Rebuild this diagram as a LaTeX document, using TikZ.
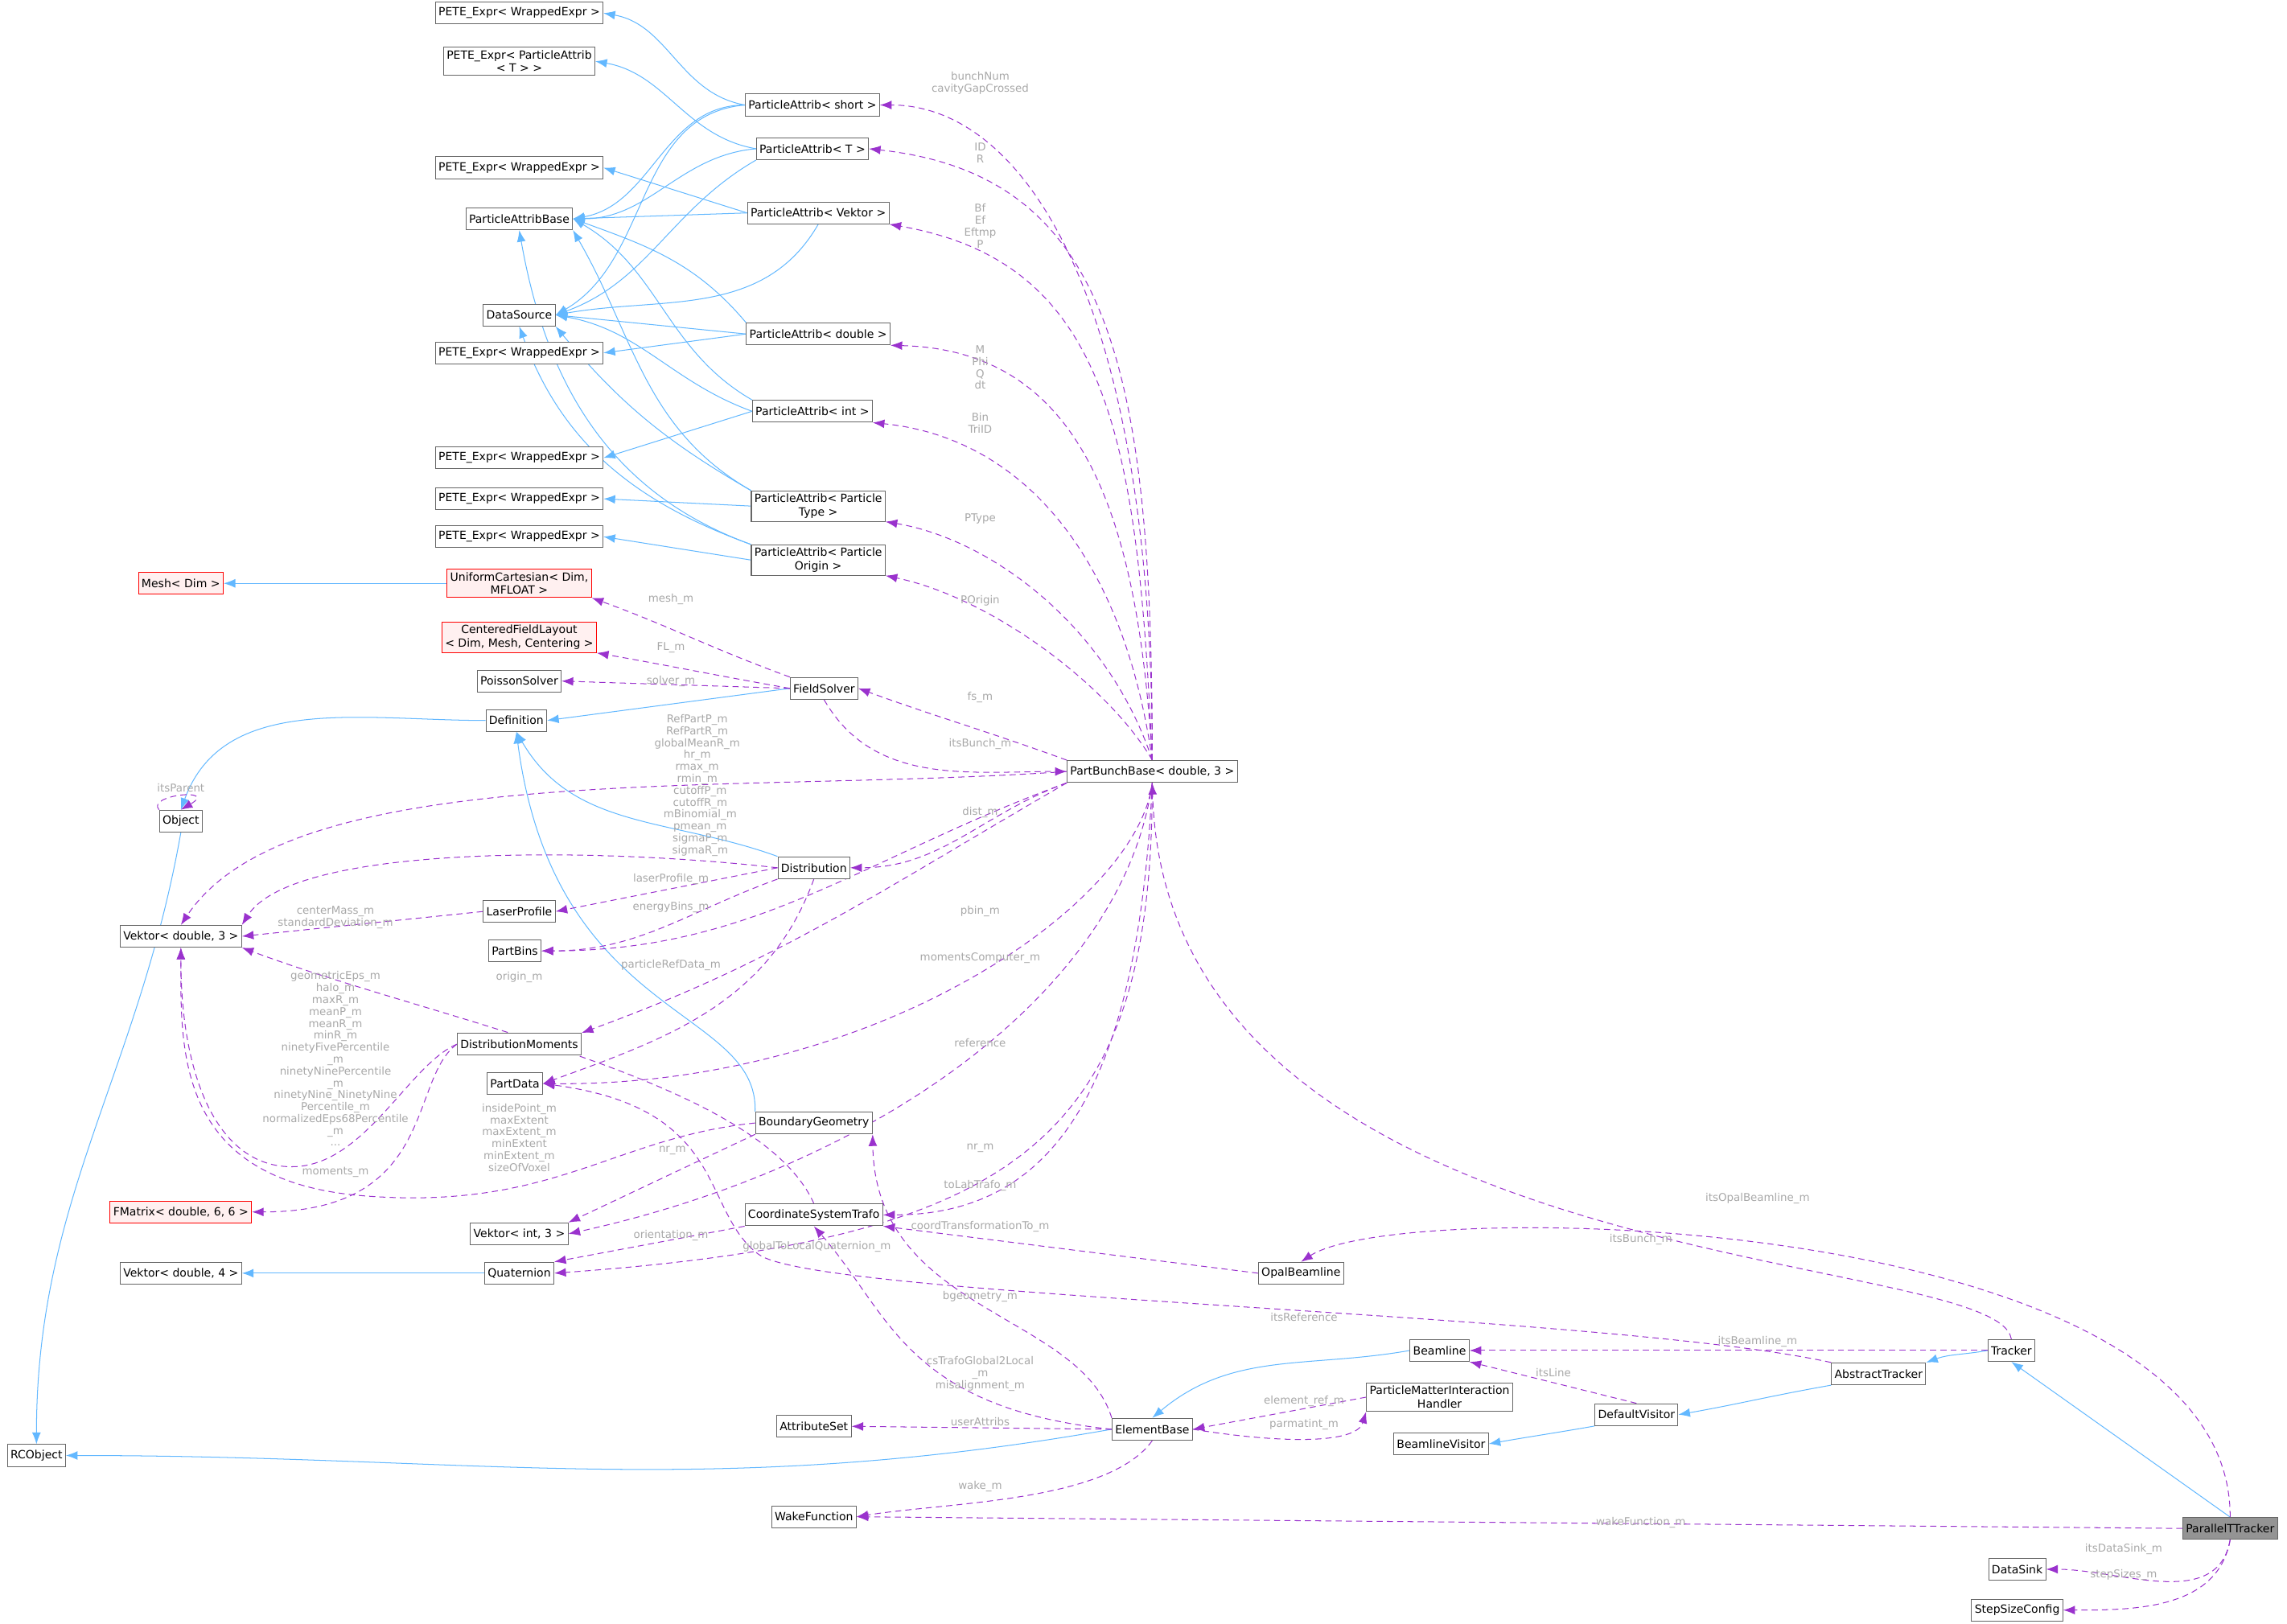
\documentclass[tikz,border=0pt]{standalone}
\usepackage{fontspec}
\setmainfont{DejaVu Sans}
\usetikzlibrary{arrows.meta,positioning,backgrounds}
\definecolor{inhblue}{HTML}{63B8FF}
\definecolor{usepurple}{HTML}{9A32CD}
\definecolor{lblgray}{HTML}{A8A8A8}
\definecolor{boxgray}{HTML}{666666}

\begin{document}
\begin{tikzpicture}[x=0.5mm,y=-0.5mm,
  cls/.style={draw=boxgray,fill=white,thick,inner sep=3pt,minimum height=7.5mm,
    font=\fontsize{11}{13}\selectfont,align=center},
  redcls/.style={cls,draw=red,fill=red!6},
  inh/.style={draw=inhblue,thick,-{Latex[length=4mm,width=3mm]}},
  use/.style={draw=usepurple,thick,dashed,dash pattern=on 6pt off 4pt,-{Latex[length=4mm,width=3mm]}},
  lbl/.style={text=lblgray,font=\fontsize{10.5}{11.6}\selectfont,align=center,inner sep=1pt}]
    \useasboundingbox (0,0) rectangle (1568,1113);
    % classes
    \node[cls](PETEa) at (356,9){PETE\_Expr< WrappedExpr >};
    \node[cls](PETEb) at (356,42){PETE\_Expr< ParticleAttrib\\< T > >};
    \node[cls](PETEc) at (356,115){PETE\_Expr< WrappedExpr >};
    \node[cls](PAB) at (356,150){ParticleAttribBase};
    \node[cls](DataSource) at (356,216){DataSource};
    \node[cls](PETEd) at (356,242){PETE\_Expr< WrappedExpr >};
    \node[cls](PETEe) at (356,314){PETE\_Expr< WrappedExpr >};
    \node[cls](PETEf) at (356,342){PETE\_Expr< WrappedExpr >};
    \node[cls](PETEg) at (356,368){PETE\_Expr< WrappedExpr >};
    \node[cls](PAshort) at (557,72){ParticleAttrib< short >};
    \node[cls](PAT) at (557,102){ParticleAttrib< T >};
    \node[cls](PAV) at (561,146){ParticleAttrib< Vektor >};
    \node[cls](PAd) at (561,229){ParticleAttrib< double >};
    \node[cls](PAi) at (557,282){ParticleAttrib< int >};
    \node[cls](PAPT) at (561,347){ParticleAttrib< Particle\\Type >};
    \node[cls](PAPO) at (561,384){ParticleAttrib< Particle\\Origin >};
    \node[redcls](Mesh) at (124,400){Mesh< Dim >};
    \node[redcls](UCart) at (356,400){UniformCartesian< Dim,\\MFLOAT >};
    \node[redcls](CFL) at (356,437){CenteredFieldLayout\\< Dim, Mesh, Centering >};
    \node[cls](Poisson) at (356,467){PoissonSolver};
    \node[cls](FieldSolver) at (565,472){FieldSolver};
    \node[cls](Definition) at (354,494){Definition};
    \node[cls](PBB) at (790,529){PartBunchBase< double, 3 >};
    \node[cls](Object) at (124,563){Object};
    \node[cls](Distribution) at (558,595){Distribution};
    \node[cls](LaserProfile) at (356,625){LaserProfile};
    \node[cls](Vd3) at (124,642){Vektor< double, 3 >};
    \node[cls](PartBins) at (353,652){PartBins};
    \node[cls](DistMom) at (356,716){DistributionMoments};
    \node[cls](PartData) at (353,743){PartData};
    \node[cls](BG) at (558,770){BoundaryGeometry};
    \node[redcls](FMatrix) at (124,831){FMatrix< double, 6, 6 >};
    \node[cls](CST) at (558,833){CoordinateSystemTrafo};
    \node[cls](Vi3) at (356,846){Vektor< int, 3 >};
    \node[cls](Vd4) at (124,873){Vektor< double, 4 >};
    \node[cls](Quaternion) at (356,873){Quaternion};
    \node[cls](OpalBeamline) at (892,873){OpalBeamline};
    \node[cls](Beamline) at (987,926){Beamline};
    \node[cls](Tracker) at (1379,926){Tracker};
    \node[cls](AbsTracker) at (1288,942){AbstractTracker};
    \node[cls](PMIH) at (987,958){ParticleMatterInteraction\\Handler};
    \node[cls](DefVisitor) at (1122,970){DefaultVisitor};
    \node[cls](AttrSet) at (558,978){AttributeSet};
    \node[cls](ElementBase) at (790,980){ElementBase};
    \node[cls](BlVisitor) at (988,990){BeamlineVisitor};
    \node[cls](RCObject) at (25,998){RCObject};
    \node[cls](Wake) at (558,1040){WakeFunction};
    \node[cls,fill=boxgray!70](PTT) at (1529,1048){ParallelTTracker};
    \node[cls](DataSink) at (1383,1076){DataSink};
    \node[cls](StepSize) at (1383,1104){StepSizeConfig};
    % labels
    \node[lbl] at (672,57){bunchNum\\cavityGapCrossed};
    \node[lbl] at (672,105){ID\\R};
    \node[lbl] at (672,155){Bf\\Ef\\Eftmp\\P};
    \node[lbl] at (672,252){M\\Phi\\Q\\dt};
    \node[lbl] at (672,290){Bin\\TriID};
    \node[lbl] at (672,356){PType};
    \node[lbl] at (672,412){POrigin};
    \node[lbl] at (460,411){mesh\_m};
    \node[lbl] at (460,444){FL\_m};
    \node[lbl] at (460,467){solver\_m};
    \node[lbl] at (672,478){fs\_m};
    \node[lbl] at (672,510){itsBunch\_m};
    \node[lbl] at (478,514){RefPartP\_m\\RefPartR\_m\\globalMeanR\_m\\hr\_m\\rmax\_m\\rmin\_m};
    \node[lbl] at (124,540){itsParent};
    \node[lbl] at (480,563){cutoffP\_m\\cutoffR\_m\\mBinomial\_m\\pmean\_m\\sigmaP\_m\\sigmaR\_m};
    \node[lbl] at (672,557){dist\_m};
    \node[lbl] at (460,603){laserProfile\_m};
    \node[lbl] at (230,629){centerMass\_m\\standardDeviation\_m};
    \node[lbl] at (460,622){energyBins\_m};
    \node[lbl] at (672,625){pbin\_m};
    \node[lbl] at (460,662){particleRefData\_m};
    \node[lbl] at (672,657){momentsComputer\_m};
    \node[lbl] at (356,670){origin\_m};
    \node[lbl] at (230,726){geometricEps\_m\\halo\_m\\maxR\_m\\meanP\_m\\meanR\_m\\minR\_m\\ninetyFivePercentile\\\_m\\ninetyNinePercentile\\\_m\\ninetyNine\_NinetyNine\\Percentile\_m\\normalizedEps68Percentile\\\_m\\...};
    \node[lbl] at (230,804){moments\_m};
    \node[lbl] at (672,715){reference};
    \node[lbl] at (356,780){insidePoint\_m\\maxExtent\\maxExtent\_m\\minExtent\\minExtent\_m\\sizeOfVoxel};
    \node[lbl] at (461,789){nr\_m};
    \node[lbl] at (672,787){nr\_m};
    \node[lbl] at (672,813){toLabTrafo\_m};
    \node[lbl] at (460,847){orientation\_m};
    \node[lbl] at (672,841){coordTransformationTo\_m};
    \node[lbl] at (560,855){globalToLocalQuaternion\_m};
    \node[lbl] at (672,889){bgeometry\_m};
    \node[lbl] at (894,903){itsReference};
    \node[lbl] at (1205,822){itsOpalBeamline\_m};
    \node[lbl] at (1125,850){itsBunch\_m};
    \node[lbl] at (1205,920){itsBeamline\_m};
    \node[lbl] at (1065,941){itsLine};
    \node[lbl] at (672,942){csTrafoGlobal2Local\\\_m\\misalignment\_m};
    \node[lbl] at (894,961){element\_ref\_m};
    \node[lbl] at (894,977){parmatint\_m};
    \node[lbl] at (672,975){userAttribs};
    \node[lbl] at (672,1019){wake\_m};
    \node[lbl] at (1125,1044){wakeFunction\_m};
    \node[lbl] at (1456,1062){itsDataSink\_m};
    \node[lbl] at (1456,1080){stepSizes\_m};

    \begin{scope}[on background layer]
    % inheritance
    \draw[inh] (PAshort.west) to[out=170,in=-10] (PETEa.east);
    \draw[inh] (PAshort.west) to[out=180,in=10] (PAB.east);
    \draw[inh] (PAshort.west) to[out=185,in=30] (DataSource.east);
    \draw[inh] (PAT.west) to[out=170,in=-10] (PETEb.east);
    \draw[inh] (PAT.west) to[out=185,in=0] (PAB.east);
    \draw[inh] (PAT.south west) to[out=210,in=20] (DataSource.east);
    \draw[inh] (PAV.west) -- (PETEc.east);
    \draw[inh] (PAV.west) -- (PAB.east);
    \draw[inh] (PAV.south) to[out=-120,in=10] (DataSource.east);
    \draw[inh] (PAd.north west) to[out=130,in=-20] (PAB.east);
    \draw[inh] (PAd.west) -- (DataSource.east);
    \draw[inh] (PAd.west) -- (PETEd.east);
    \draw[inh] (PAi.north west) to[out=150,in=-30] (PAB.east);
    \draw[inh] (PAi.west) to[out=160,in=-10] (DataSource.east);
    \draw[inh] (PAi.west) -- (PETEe.east);
    \draw[inh] (PAPT.north west) to[out=150,in=-60] (PAB.south east);
    \draw[inh] (PAPT.north west) to[out=150,in=-50] (DataSource.south east);
    \draw[inh] (PAPT.west) -- (PETEf.east);
    \draw[inh] (PAPO.north west) to[out=160,in=-80] (PAB.south);
    \draw[inh] (PAPO.north west) to[out=160,in=-70] (DataSource.south);
    \draw[inh] (PAPO.west) -- (PETEg.east);
    \draw[inh] (UCart.west) -- (Mesh.east);
    \draw[inh] (FieldSolver.west) -- (Definition.east);
    \draw[inh] (Definition.west) to[out=180,in=70] (Object.north);
    \draw[inh] (Distribution.north west) to[out=160,in=-60] (Definition.south);
    \draw[inh] (BG.north west) .. controls (520,690) and (380,700) .. (Definition.south);
    \draw[inh] (Object.south) to[out=-100,in=90] (RCObject.north);
    \draw[inh] (Quaternion.west) -- (Vd4.east);
    \draw[inh] (ElementBase.west) to[out=190,in=0] (RCObject.east);
    \draw[inh] (Beamline.west) to[out=190,in=40] (ElementBase.north);
    \draw[inh] (DefVisitor.south west) to[out=190,in=10] (BlVisitor.east);
    \draw[inh] (AbsTracker.south west) to[out=190,in=10] (DefVisitor.east);
    \draw[inh] (Tracker.west) to[out=190,in=20] (AbsTracker.north east);
    \draw[inh] (PTT.north) -- (Tracker.south);
    % usage
    \draw[use] (PBB.north) .. controls (790,200) and (700,72) .. (PAshort.east);
    \draw[use] (PBB.north) .. controls (790,250) and (760,120) .. (PAT.east);
    \draw[use] (PBB.north) .. controls (780,300) and (760,180) .. (PAV.south east);
    \draw[use] (PBB.north) .. controls (780,350) and (740,240) .. (PAd.south east);
    \draw[use] (PBB.north) .. controls (770,380) and (700,300) .. (PAi.south east);
    \draw[use] (PBB.north) .. controls (760,430) and (680,370) .. (PAPT.south east);
    \draw[use] (PBB.north) .. controls (760,470) and (680,410) .. (PAPO.south east);
    \draw[use] (FieldSolver.north west) to[out=160,in=-20] (UCart.south east);
    \draw[use] (FieldSolver.west) to[out=170,in=-10] (CFL.south east);
    \draw[use] (FieldSolver.west) -- (Poisson.east);
    \draw[use] (FieldSolver.south) to[out=-60,in=180] (PBB.west);
    \draw[use] (PBB.north west) to[out=160,in=-20] (FieldSolver.east);
    \draw[use] (PBB.west) .. controls (500,545) and (200,520) .. (Vd3.north);
    \draw[use] (Object.north west) .. controls (100,545) and (150,540) .. (Object.north);
    \draw[use] (Distribution.west) .. controls (400,580) and (200,580) .. (Vd3.north east);
    \draw[use] (PBB.south west) to[out=200,in=0] (Distribution.east);
    \draw[use] (Distribution.west) -- (LaserProfile.east);
    \draw[use] (LaserProfile.west) -- (Vd3.east);
    \draw[use] (Distribution.south west) to[out=200,in=0] (PartBins.east);
    \draw[use] (PBB.south west) to[out=200,in=0] (PartBins.east);
    \draw[use] (Distribution.south) to[out=-110,in=20] (PartData.east);
    \draw[use] (PBB.south west) to[out=210,in=20] (DistMom.north east);
    \draw[use] (DistMom.west) .. controls (280,730) and (250,800) .. (200,800) .. controls (150,800) and (124,740) .. (Vd3.south);
    \draw[use] (DistMom.west) .. controls (280,740) and (300,831) .. (FMatrix.east);
    \draw[use] (PBB.south) .. controls (780,620) and (600,745) .. (PartData.east);
    \draw[use] (BG.west) .. controls (420,780) and (380,830) .. (250,820) .. controls (120,810) and (124,720) .. (Vd3.south);
    \draw[use] (CST.north) .. controls (520,740) and (300,700) .. (Vd3.south east);
    \draw[use] (BG.south west) -- (Vi3.north east);
    \draw[use] (PBB.south) .. controls (770,680) and (600,800) .. (Vi3.east);
    \draw[use] (CST.south west) -- (Quaternion.north east);
    \draw[use] (PBB.south) .. controls (780,750) and (720,833) .. (CST.east);
    \draw[use] (PBB.south) .. controls (790,780) and (700,850) .. (Quaternion.east);
    \draw[use] (OpalBeamline.west) -- (CST.south east);
    \draw[use] (ElementBase.west) .. controls (620,965) and (610,900) .. (CST.south);
    \draw[use] (ElementBase.north west) .. controls (740,900) and (600,900) .. (BG.south east);
    \draw[use] (AbsTracker.north west) .. controls (1100,900) and (560,890) .. (520,860) .. controls (480,830) and (500,760) .. (PartData.east);
    \draw[use] (PTT.north) .. controls (1530,830) and (960,820) .. (OpalBeamline.north);
    \draw[use] (Tracker.north) .. controls (1370,855) and (800,880) .. (PBB.south);
    \draw[use] (Tracker.west) -- (Beamline.east);
    \draw[use] (DefVisitor.north) -- (Beamline.south east);
    \draw[use] (ElementBase.west) -- (AttrSet.east);
    \draw[use] (PMIH.west) -- (ElementBase.east);
    \draw[use] (ElementBase.east) .. controls (880,990) and (930,990) .. (PMIH.south west);
    \draw[use] (ElementBase.south) .. controls (760,1030) and (650,1030) .. (Wake.east);
    \draw[use] (PTT.west) -- (Wake.east);
    \draw[use] (PTT.south) to[out=-100,in=0] (DataSink.east);
    \draw[use] (PTT.south) to[out=-100,in=0] (StepSize.east);
    \end{scope}
\end{tikzpicture}
\end{document}
